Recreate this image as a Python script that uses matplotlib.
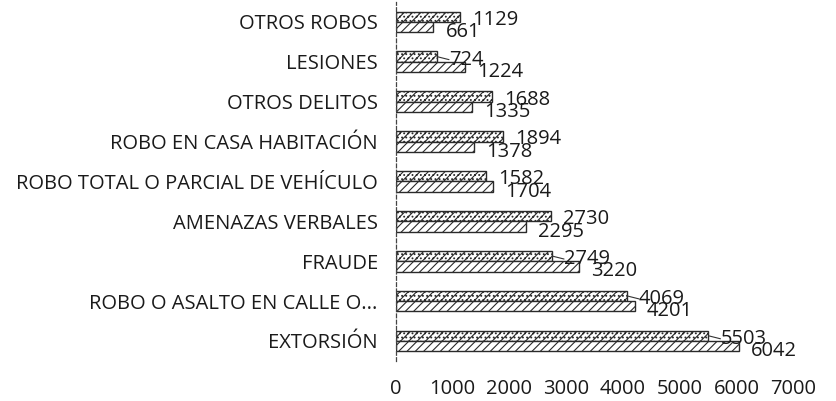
import matplotlib.pyplot as plt
import numpy as np

plt.rcParams['font.family'] = ['Open Sans', 'DejaVu Sans']
plt.rcParams['hatch.linewidth'] = 0.8

CATEGORIES = ['OTROS ROBOS', 'LESIONES', 'OTROS DELITOS', 'ROBO EN CASA HABITACIÓN',
              'ROBO TOTAL O PARCIAL DE VEHÍCULO', 'AMENAZAS VERBALES', 'FRAUDE',
              'ROBO O ASALTO EN CALLE O...', 'EXTORSIÓN']
SERIES_A = [1129, 724, 1688, 1894, 1582, 2730, 2749, 4069, 5503]
SERIES_B = [661, 1224, 1335, 1378, 1704, 2295, 3220, 4201, 6042]
XTICKS = [0, 1000, 2000, 3000, 4000, 5000, 6000, 7000]
# labels of series A drawn with a short leader line
LEADER_A = [False, True, False, False, False, False, True, True, True]

fig = plt.figure(figsize=(8.37, 4.01), dpi=100)
ax = fig.add_axes([0.473, 0.10, 0.475, 0.895])

y = np.arange(len(CATEGORIES))
h = 0.26
ax.barh(y - h / 2, SERIES_A, height=h, color='white', edgecolor='#2a2a2a',
        hatch='////....', lw=1.0)
ax.barh(y + h / 2, SERIES_B, height=h, color='white', edgecolor='#2a2a2a',
        hatch='////', lw=1.0)

for i in range(len(CATEGORIES)):
    ax.annotate(str(SERIES_A[i]), (SERIES_A[i], y[i] - h / 2), xytext=(12, -3),
                textcoords='offset pixels', va='center', ha='left', fontsize=14.5,
                color='#1a1a1a')
    if LEADER_A[i]:
        ax.annotate('', (SERIES_A[i], y[i] - h / 2), xytext=(12, -3),
                    textcoords='offset pixels',
                    arrowprops=dict(arrowstyle='-', color='#333333', lw=0.8,
                                    shrinkA=0, shrinkB=0))
    ax.annotate(str(SERIES_B[i]), (SERIES_B[i], y[i] + h / 2), xytext=(12, -5),
                textcoords='offset pixels', va='center', ha='left', fontsize=14.5,
                color='#1a1a1a')

ax.set_ylim(len(CATEGORIES) - 0.5, -0.5)
ax.set_xlim(0, 7000)
ax.set_yticks(y)
ax.set_yticklabels(CATEGORIES, fontsize=14.5, color='#1a1a1a')
ax.set_xticks(XTICKS)
ax.set_xticklabels([str(t) for t in XTICKS], fontsize=14.5, color='#1a1a1a')
ax.tick_params(axis='y', length=0, pad=13)
ax.tick_params(axis='x', length=0, pad=13)

for s in ['top', 'right', 'bottom']:
    ax.spines[s].set_visible(False)
ax.spines['left'].set_linestyle((0, (3, 2)))
ax.spines['left'].set_color('#444444')
ax.spines['left'].set_linewidth(0.9)

fig.savefig('out.png', dpi=100)
